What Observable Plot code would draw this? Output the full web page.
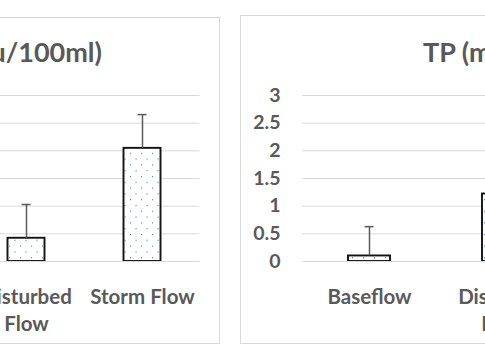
<!DOCTYPE html>
<html>
<head>
<meta charset="utf-8">
<script src="https://cdn.jsdelivr.net/npm/d3@7"></script>
<script src="https://cdn.jsdelivr.net/npm/@observablehq/plot@0.6"></script>
<style>
  html, body { margin: 0; padding: 0; background: #fff; }
  #wrap { position: relative; width: 485px; height: 360px; overflow: hidden; background: #fff; font-family: Lato, "Open Sans", sans-serif; }
  .panel { position: absolute; border: 1px solid #d9d9d9; box-sizing: border-box; }
  .chart { position: absolute; top: 0; height: 360px; }
  .chart svg { overflow: visible; max-width: none !important; }
  #titles { position: absolute; left: 0; top: 0; }
</style>
</head>
<body>
<div id="wrap">
  <div class="panel" style="left:-20px; top:17px; width:240px; height:327px;"></div>
  <div class="panel" style="left:240px; top:15px; width:400px; height:329px;"></div>
  <div class="chart" id="left" style="left:-400px; width:620px;"></div>
  <div class="chart" id="right" style="left:240px; width:484px;"></div>
  <svg id="titles" width="485" height="360"></svg>
</div>
<script>
// ---- data ----
const categories = ["Baseflow", "Disturbed Flow", "Storm Flow"];
const tickLabels = ["Baseflow", "Disturbed\nFlow", "Storm Flow"];

// Left panel: E. coli (cfu/100ml) — only the two visible bars
const ecoliCats = ["Disturbed Flow", "Storm Flow"];
const ecoliMean = [420, 2045];
const ecoliErr  = [610, 610];
const ecoliTicks = [0, 500, 1000, 1500, 2000, 2500, 3000];

// Right panel: TP (mg/L) — visible bars
const tpCats = ["Baseflow", "Disturbed Flow"];
const tpMean = [0.1, 1.22];
const tpErr  = [0.53, 0.6];
const tpTicks = [0, 0.5, 1, 1.5, 2, 2.5, 3];
const tpTickLabels = ["0", "0.5", "1", "1.5", "2", "2.5", "3"];

const titles = ["E. coli (cfu/100ml)", "TP (mg/L)"];

// ---- build ----
const grey = "#595959";
const font = "Lato, 'Open Sans', sans-serif";
const labelMap = new Map(categories.map((c, i) => [c, tickLabels[i]]));
const tpLabelMap = new Map(tpTicks.map((v, i) => [v, tpTickLabels[i]]));

function rows(cats, mean, err) {
  return cats.map((c, i) => ({cat: c, value: mean[i], top: mean[i] + err[i]}));
}

function addPattern(svg, id) {
  d3.select(svg).insert("defs", ":first-child").html(
    `<pattern id="${id}" width="11" height="11.6" patternUnits="userSpaceOnUse">
       <rect width="11" height="11.6" fill="#ffffff"/>
       <rect x="2" y="2" width="1.1" height="1.1" fill="#4a7ab8"/>
       <rect x="7.5" y="7.8" width="1.1" height="1.1" fill="#4a7ab8"/>
     </pattern>`);
}

function panel({data, ticks, domainY, width, marginLeft, marginRight, barInset, capInset, yLabels, patternId}) {
  const marks = [
    Plot.gridY(ticks, {stroke: "#d9d9d9", strokeOpacity: 1, strokeWidth: 1}),
    Plot.barY(data, {x: "cat", y: "value", fill: `url(#${patternId})`, stroke: "#111", strokeWidth: 1.9,
      insetLeft: barInset, insetRight: barInset}),
    Plot.ruleY([0], {stroke: "#d9d9d9", strokeWidth: 1}),
    Plot.ruleX(data, {x: "cat", y1: "value", y2: "top", stroke: grey, strokeWidth: 1.5}),
    Plot.tickY(data, {x: "cat", y: "top", stroke: grey, strokeWidth: 1.5, insetLeft: capInset, insetRight: capInset}),
    Plot.axisX({tickSize: 0, tickPadding: 22.5, fontSize: 20.5, fontWeight: 700, color: grey,
      lineHeight: 1.35, tickFormat: d => labelMap.get(d), label: null})
  ];
  if (yLabels) {
    marks.push(Plot.axisY(ticks, {tickSize: 0, tickPadding: 22, fontSize: 19.5, fontWeight: 700, color: grey,
      label: null, tickFormat: d => yLabels.get(d)}));
  }
  const svg = Plot.plot({
    width, height: 360,
    marginLeft, marginRight, marginTop: 95, marginBottom: 99,
    style: {fontFamily: font, background: "transparent", overflow: "visible"},
    x: {domain: categories, padding: 0},
    y: yLabels ? {domain: domainY} : {domain: domainY, axis: null},
    marks
  });
  addPattern(svg, patternId);
  return svg;
}

document.getElementById("left").append(panel({
  data: rows(ecoliCats, ecoliMean, ecoliErr), ticks: ecoliTicks, domainY: [0, 3000],
  width: 620, marginLeft: 251.5, marginRight: 20.5, barInset: 39.5, capInset: 53.5,
  yLabels: null, patternId: "dotsL"
}));

document.getElementById("right").append(panel({
  data: rows(tpCats, tpMean, tpErr), ticks: tpTicks, domainY: [0, 3],
  width: 484, marginLeft: 62, marginRight: 20, barInset: 46, capInset: 62.5,
  yLabels: tpLabelMap, patternId: "dotsR"
}));

const t = d3.select("#titles");
t.append("text").attr("x", 102).attr("y", 62).attr("text-anchor", "end")
  .attr("font-family", font).attr("font-size", 27).attr("font-weight", 700).attr("fill", grey).text(titles[0]);
t.append("text").attr("x", 423).attr("y", 62).attr("text-anchor", "start")
  .attr("font-family", font).attr("font-size", 27).attr("font-weight", 700).attr("fill", grey).text(titles[1]);
</script>
</body>
</html>
